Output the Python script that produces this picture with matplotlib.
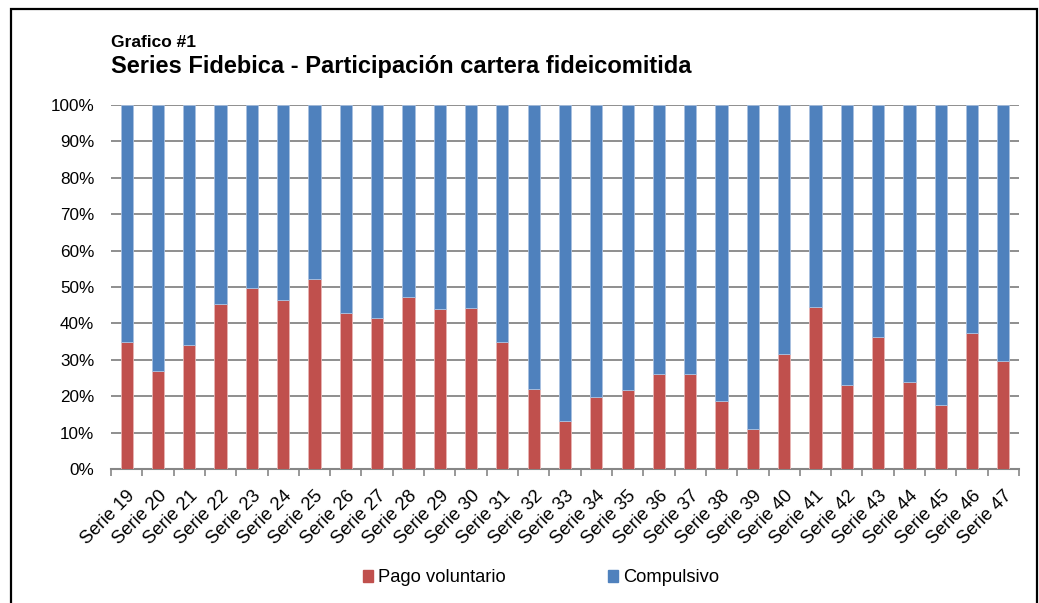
import matplotlib
matplotlib.use("Agg")
import matplotlib.pyplot as plt
from matplotlib.patches import Patch, Rectangle
from matplotlib.ticker import FixedLocator, FuncFormatter

plt.rcParams["font.family"] = ["Liberation Sans", "DejaVu Sans"]

series = [f"Serie {n}" for n in range(19, 48)]
pago_voluntario = [35.0, 26.9, 34.1, 45.2, 49.6, 46.3, 52.1, 42.8, 41.4, 47.2,
                   43.9, 44.1, 34.9, 21.9, 13.3, 19.7, 21.7, 26.0, 26.0, 18.6,
                   11.0, 31.7, 44.5, 23.0, 36.2, 23.8, 17.5, 37.3, 29.6]
compulsivo = [100 - v for v in pago_voluntario]

RED = "#C0504D"
BLUE = "#4F81BD"
GRID = "#868686"

W, H = 1039, 603
fig = plt.figure(figsize=(W / 100, H / 100), dpi=100)
ax = fig.add_axes([111 / W, 1 - 469 / H, (1019 - 111) / W, (469 - 105) / H])

x = list(range(len(series)))
ax.bar(x, pago_voluntario, width=0.39, color=RED, edgecolor="#E8B5B4", linewidth=0.6, zorder=3)
ax.bar(x, compulsivo, bottom=pago_voluntario, width=0.39, color=BLUE,
       edgecolor="#A9C1E0", linewidth=0.6, zorder=3)

ax.set_xlim(-0.5, len(series) - 0.5)
ax.set_ylim(0, 100)
ax.set_yticks(range(0, 101, 10))
ax.yaxis.set_major_formatter(FuncFormatter(lambda v, p: f"{v:.0f}%"))
ax.grid(axis="y", color=GRID, linewidth=1.3, zorder=0)
ax.tick_params(axis="y", length=0, pad=12, labelsize=12.3)

ax.set_xticks(x)
ax.set_xticklabels(series, rotation=45, ha="right", rotation_mode="anchor", fontsize=13.2)
ax.xaxis.set_minor_locator(FixedLocator([i - 0.5 for i in range(len(series) + 1)]))
ax.tick_params(axis="x", which="major", length=0, pad=13)
ax.tick_params(axis="x", which="minor", length=5, color=GRID, width=1.2)

for s in ["left", "right", "top"]:
    ax.spines[s].set_visible(False)
ax.spines["bottom"].set_color(GRID)
ax.spines["bottom"].set_linewidth(1.5)

fig.text(111 / W, 1 - 47 / H, "Grafico #1", fontsize=12.5, fontweight="bold", va="baseline")
fig.text(111 / W, 1 - 72.5 / H, "Series Fidebica - Participación cartera fideicomitida",
         fontsize=17, fontweight="bold", va="baseline")

handles = [Patch(color=RED, label="Pago voluntario"), Patch(color=BLUE, label="Compulsivo")]
fig.legend(handles=handles, loc="center", bbox_to_anchor=(541 / W, 1 - 578 / H), ncol=2,
           frameon=False, fontsize=13.2, handlelength=0.55, handleheight=0.55,
           handletextpad=0.25, columnspacing=5.6)

fig.add_artist(Rectangle((11 / W, -0.02), (1037 - 11) / W, 1 - 9 / H + 0.02,
                         transform=fig.transFigure, fill=False, edgecolor="black",
                         linewidth=1.6))

fig.savefig("out.png", dpi=100)
